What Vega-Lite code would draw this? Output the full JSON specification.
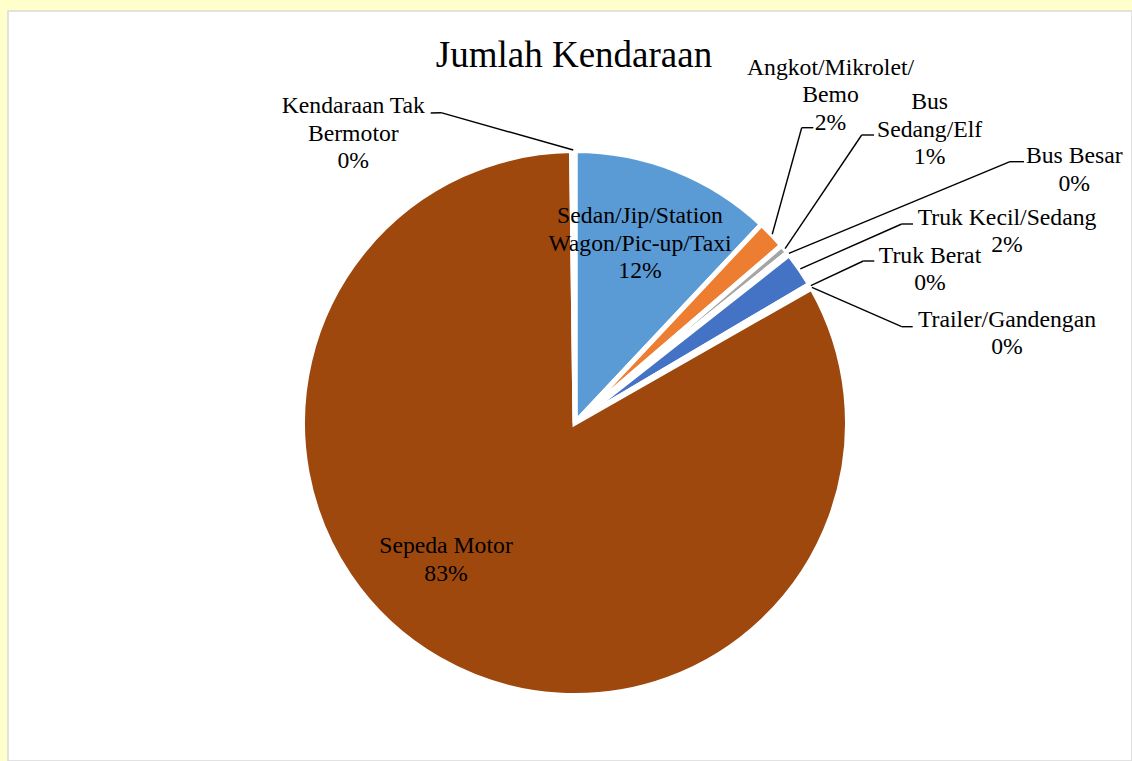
{
  "$schema": "https://vega.github.io/schema/vega-lite/v6.json",
  "width": 1124,
  "height": 750,
  "autosize": {"type": "none"},
  "padding": {"left": 8, "top": 11, "right": 0, "bottom": 0},
  "background": "#FFFFCC",
  "config": {
    "view": {"fill": "white", "stroke": "#D9D9D9", "strokeWidth": 1.5},
    "font": "Liberation Serif"
  },
  "title": {
    "text": "Jumlah Kendaraan",
    "font": "Liberation Serif",
    "fontSize": 37,
    "fontWeight": "normal",
    "color": "black",
    "anchor": "middle",
    "baseline": "alphabetic",
    "offset": 0,
    "dy": 93,
    "dx": 4
  },
  "data": {
    "values": [
      {"category": "Sedan/Jip/Station Wagon/Pic-up/Taxi", "value": 12.0},
      {"category": "Angkot/Mikrolet/Bemo", "value": 1.7},
      {"category": "Bus Sedang/Elf", "value": 0.55},
      {"category": "Bus Besar", "value": 0.15},
      {"category": "Truk Kecil/Sedang", "value": 2.1},
      {"category": "Truk Berat", "value": 0.2},
      {"category": "Trailer/Gandengan", "value": 0.05},
      {"category": "Sepeda Motor", "value": 83.05},
      {"category": "Kendaraan Tak Bermotor", "value": 0.2}
    ]
  },
  "transform": [
    {"window": [{"op": "row_number", "as": "idx"}]},
    {"joinaggregate": [{"op": "sum", "field": "value", "as": "total"}]},
    {"window": [{"op": "sum", "field": "value", "as": "cum"}], "sort": [{"field": "idx"}], "frame": [null, 0]},
    {"calculate": "2 * PI * (datum.cum - datum.value / 2) / datum.total", "as": "mid"},
    {"calculate": "273 * sin(datum.mid)", "as": "ex"},
    {"calculate": "-273 * cos(datum.mid)", "as": "ey"},
    {"calculate": "replace(replace(replace(replace(datum.category, 'Tak Bermotor', 'Tak|Bermotor'), 'Mikrolet/Bemo', 'Mikrolet/|Bemo'), 'Bus Sedang', 'Bus|Sedang'), 'Station Wagon', 'Station|Wagon') + '|' + format(datum.value / datum.total, '.0%')", "as": "lbl"},
    {"calculate": "({'Sedan/Jip/Station Wagon/Pic-up/Taxi': [65, -199.7], 'Angkot/Mikrolet/Bemo': [255.5, -348, 226.7, -295.3, 238.3, -295.3], 'Bus Sedang/Elf': [354.6, -313.7, 286.7, -288, 299, -288], 'Bus Besar': [499.3, -259.7, 435, -261.3, 449, -261.3], 'Truk Kecil/Sedang': [432, -198, 326.7, -199, 338, -199], 'Truk Berat': [355, -160.3, 288.3, -162, 299.3, -162], 'Trailer/Gandengan': [432, -96.3, 326.7, -96.3, 337.7, -96.3], 'Sepeda Motor': [-129, 130.3], 'Kendaraan Tak Bermotor': [-221.7, -309.7, -134, -310.3, -144.3, -310]})[datum.category]", "as": "lay"},
    {"calculate": "datum.lay[0]", "as": "tx"},
    {"calculate": "datum.lay[1]", "as": "ty"},
    {"calculate": "length(datum.lay) > 2 ? datum.lay[2] : null", "as": "elx"},
    {"calculate": "length(datum.lay) > 2 ? datum.lay[3] : null", "as": "ely"},
    {"calculate": "length(datum.lay) > 2 ? datum.lay[4] : null", "as": "ax"},
    {"calculate": "length(datum.lay) > 2 ? datum.lay[5] : null", "as": "ay"}
  ],
  "layer": [
    {
      "mark": {"type": "arc", "outerRadius": 272.5, "stroke": "white", "strokeWidth": 5},
      "encoding": {
        "x": {"datum": 0, "type": "quantitative", "scale": {"domain": [-567, 557], "nice": false, "zero": false}, "axis": null},
        "y": {"datum": 0, "type": "quantitative", "scale": {"domain": [-412, 338], "nice": false, "zero": false, "reverse": true}, "axis": null},
        "theta": {"field": "value", "type": "quantitative", "stack": true},
        "order": {"field": "idx", "type": "quantitative"},
        "color": {
          "field": "category",
          "type": "nominal",
          "legend": null,
          "scale": {
            "domain": ["Sedan/Jip/Station Wagon/Pic-up/Taxi", "Angkot/Mikrolet/Bemo", "Bus Sedang/Elf", "Bus Besar", "Truk Kecil/Sedang", "Truk Berat", "Trailer/Gandengan", "Sepeda Motor", "Kendaraan Tak Bermotor"],
            "range": ["#5B9BD5", "#ED7D31", "#A5A5A5", "#FFC000", "#4472C4", "#70AD47", "#255E91", "#9E480E", "#636363"]
          }
        }
      }
    },
    {
      "transform": [{"filter": "datum.elx != null"}],
      "mark": {"type": "rule", "color": "black", "strokeWidth": 1.4},
      "encoding": {
        "x": {"field": "ex", "type": "quantitative"},
        "y": {"field": "ey", "type": "quantitative"},
        "x2": {"field": "elx"},
        "y2": {"field": "ely"}
      }
    },
    {
      "transform": [{"filter": "datum.elx != null"}],
      "mark": {"type": "rule", "color": "black", "strokeWidth": 1.4},
      "encoding": {
        "x": {"field": "elx", "type": "quantitative"},
        "y": {"field": "ely", "type": "quantitative"},
        "x2": {"field": "ax"},
        "y2": {"field": "ay"}
      }
    },
    {
      "mark": {"type": "text", "font": "Liberation Serif", "fontSize": 23.7, "color": "black", "align": "center", "baseline": "alphabetic", "lineBreak": "|", "lineHeight": 27.4},
      "encoding": {
        "x": {"field": "tx", "type": "quantitative"},
        "y": {"field": "ty", "type": "quantitative"},
        "text": {"field": "lbl", "type": "nominal"}
      }
    }
  ]
}
